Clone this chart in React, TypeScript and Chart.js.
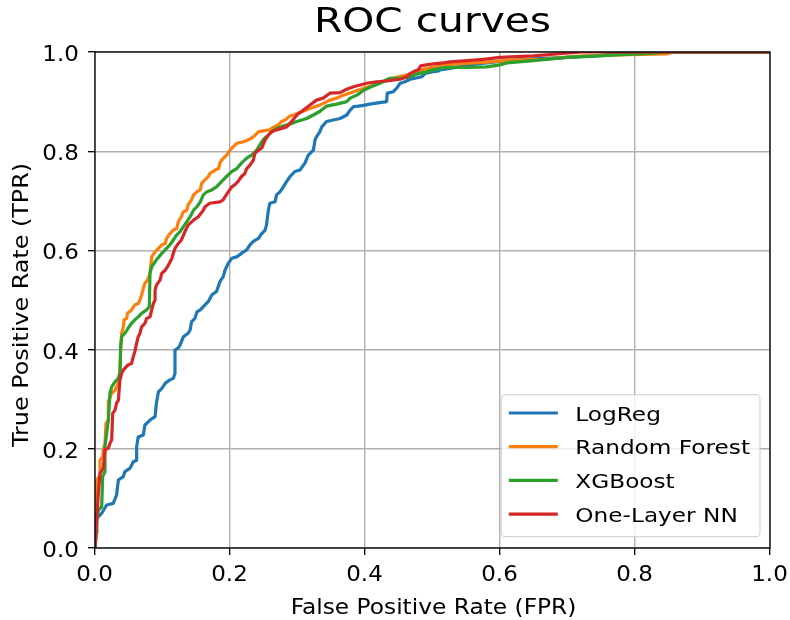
import React, { useEffect, useRef } from 'react';
import { Chart, registerables } from 'chart.js';

Chart.register(...registerables);

const chartTitle = 'ROC curves';
const xAxisTitle = 'False Positive Rate (FPR)';
const yAxisTitle = 'True Positive Rate (TPR)';

const seriesNames = ['LogReg', 'Random Forest', 'XGBoost', 'One-Layer NN'];
const seriesColors = ['#1f77b4', '#ff7f0e', '#2ca02c', '#d62728'];

const xTickValues = [0, 0.2, 0.4, 0.6, 0.8, 1.0];
const xTickLabels = ['0.0', '0.2', '0.4', '0.6', '0.8', '1.0'];
const yTickValues = [0, 0.2, 0.4, 0.6, 0.8, 1.0];
const yTickLabels = ['0.0', '0.2', '0.4', '0.6', '0.8', '1.0'];

const logregFpr = [0, 0.002, 0.0025, 0.0099, 0.0173, 0.027, 0.032, 0.0346, 0.042, 0.0444, 0.052, 0.0568, 0.0617, 0.0617, 0.064, 0.0716, 0.074, 0.0815, 0.089, 0.091, 0.094, 0.099, 0.104, 0.111, 0.116, 0.1185, 0.1185, 0.123, 0.126, 0.131, 0.138, 0.141, 0.143, 0.148, 0.151, 0.156, 0.163, 0.168, 0.173, 0.18, 0.185, 0.19, 0.1926, 0.1975, 0.2025, 0.21, 0.217, 0.2247, 0.2296, 0.2346, 0.242, 0.247, 0.252, 0.254, 0.2568, 0.259, 0.2667, 0.269, 0.274, 0.279, 0.284, 0.289, 0.296, 0.3037, 0.311, 0.316, 0.3235, 0.326, 0.328, 0.333, 0.336, 0.343, 0.353, 0.363, 0.373, 0.378, 0.383, 0.39, 0.4, 0.407, 0.422, 0.432, 0.433, 0.442, 0.447, 0.452, 0.459, 0.467, 0.474, 0.484, 0.489, 0.499, 0.509, 0.511, 0.53, 0.56, 0.6, 0.65, 0.7, 0.74, 0.78, 0.8, 1.0];
const logregTpr = [0, 0.03, 0.06, 0.07, 0.0867, 0.09, 0.107, 0.137, 0.144, 0.154, 0.161, 0.174, 0.177, 0.204, 0.224, 0.228, 0.248, 0.258, 0.265, 0.292, 0.315, 0.322, 0.332, 0.339, 0.342, 0.352, 0.399, 0.403, 0.409, 0.426, 0.433, 0.44, 0.456, 0.463, 0.476, 0.48, 0.49, 0.497, 0.51, 0.517, 0.537, 0.547, 0.56, 0.574, 0.584, 0.587, 0.594, 0.601, 0.611, 0.618, 0.624, 0.634, 0.641, 0.651, 0.681, 0.695, 0.698, 0.712, 0.718, 0.728, 0.739, 0.749, 0.759, 0.762, 0.776, 0.792, 0.802, 0.823, 0.829, 0.839, 0.849, 0.86, 0.863, 0.866, 0.873, 0.883, 0.89, 0.891, 0.893, 0.895, 0.898, 0.9, 0.917, 0.92, 0.927, 0.937, 0.94, 0.945, 0.947, 0.95, 0.957, 0.96, 0.962, 0.964, 0.968, 0.975, 0.981, 0.986, 0.989, 0.992, 0.997, 1.0, 1.0];

const forestFpr = [0, 0.0015, 0.0025, 0.0064, 0.0074, 0.0114, 0.0123, 0.0148, 0.0163, 0.0198, 0.0198, 0.0247, 0.0296, 0.0346, 0.037, 0.038, 0.0395, 0.042, 0.043, 0.047, 0.048, 0.054, 0.059, 0.064, 0.0667, 0.069, 0.0716, 0.074, 0.0775, 0.079, 0.0815, 0.084, 0.089, 0.094, 0.099, 0.104, 0.106, 0.111, 0.116, 0.121, 0.1235, 0.128, 0.131, 0.136, 0.138, 0.143, 0.146, 0.151, 0.156, 0.158, 0.163, 0.168, 0.17, 0.178, 0.183, 0.185, 0.1877, 0.1926, 0.195, 0.2, 0.205, 0.21, 0.22, 0.227, 0.2346, 0.242, 0.249, 0.259, 0.264, 0.2716, 0.2765, 0.2815, 0.289, 0.296, 0.3185, 0.333, 0.348, 0.358, 0.368, 0.383, 0.398, 0.4123, 0.432, 0.447, 0.4716, 0.4864, 0.501, 0.516, 0.536, 0.56, 0.585, 0.61, 0.63, 0.664, 0.679, 0.723, 0.773, 0.847, 0.857, 1.0];
const forestTpr = [0, 0.07, 0.137, 0.144, 0.177, 0.184, 0.198, 0.211, 0.251, 0.258, 0.295, 0.312, 0.3185, 0.332, 0.359, 0.399, 0.433, 0.446, 0.46, 0.463, 0.473, 0.48, 0.49, 0.493, 0.5, 0.51, 0.5235, 0.5336, 0.54, 0.544, 0.554, 0.587, 0.597, 0.604, 0.611, 0.614, 0.624, 0.634, 0.641, 0.644, 0.658, 0.668, 0.678, 0.681, 0.692, 0.702, 0.712, 0.718, 0.722, 0.735, 0.742, 0.749, 0.755, 0.762, 0.765, 0.776, 0.782, 0.789, 0.792, 0.802, 0.809, 0.816, 0.819, 0.823, 0.829, 0.839, 0.841, 0.843, 0.848, 0.853, 0.86, 0.863, 0.871, 0.874, 0.886, 0.893, 0.903, 0.907, 0.913, 0.92, 0.927, 0.933, 0.9435, 0.949, 0.957, 0.965, 0.969, 0.974, 0.976, 0.978, 0.98, 0.9825, 0.984, 0.985, 0.987, 0.992, 0.994, 0.996, 1.0, 1.0];

const xgbFpr = [0, 0.0015, 0.0025, 0.005, 0.0099, 0.0114, 0.0148, 0.0148, 0.0173, 0.0198, 0.0222, 0.0247, 0.0296, 0.0346, 0.037, 0.038, 0.0395, 0.0444, 0.049, 0.054, 0.059, 0.064, 0.069, 0.0765, 0.0805, 0.0815, 0.084, 0.091, 0.099, 0.106, 0.111, 0.116, 0.121, 0.126, 0.131, 0.136, 0.141, 0.146, 0.151, 0.156, 0.1605, 0.1655, 0.173, 0.18, 0.1877, 0.195, 0.2025, 0.21, 0.217, 0.2247, 0.232, 0.2395, 0.244, 0.249, 0.254, 0.2617, 0.269, 0.279, 0.289, 0.299, 0.3136, 0.3235, 0.333, 0.343, 0.358, 0.373, 0.378, 0.388, 0.398, 0.4074, 0.422, 0.437, 0.452, 0.467, 0.474, 0.4815, 0.491, 0.501, 0.511, 0.521, 0.551, 0.58, 0.6, 0.61, 0.649, 0.699, 0.748, 0.773, 0.822, 0.85, 1.0];
const xgbTpr = [0, 0.03, 0.056, 0.0766, 0.083, 0.144, 0.154, 0.204, 0.231, 0.258, 0.312, 0.325, 0.335, 0.342, 0.352, 0.406, 0.426, 0.433, 0.443, 0.453, 0.46, 0.466, 0.473, 0.48, 0.4866, 0.554, 0.567, 0.581, 0.594, 0.604, 0.611, 0.621, 0.631, 0.638, 0.648, 0.658, 0.668, 0.681, 0.688, 0.698, 0.712, 0.718, 0.722, 0.728, 0.739, 0.749, 0.759, 0.765, 0.776, 0.786, 0.792, 0.802, 0.8125, 0.823, 0.829, 0.839, 0.846, 0.851, 0.855, 0.86, 0.866, 0.873, 0.88, 0.891, 0.895, 0.9, 0.907, 0.913, 0.923, 0.929, 0.937, 0.947, 0.947, 0.95, 0.954, 0.957, 0.96, 0.964, 0.967, 0.969, 0.969, 0.97, 0.974, 0.978, 0.9825, 0.989, 0.992, 0.994, 0.997, 1.0, 1.0];

const nnFpr = [0, 0.0025, 0.005, 0.0074, 0.0123, 0.0148, 0.0198, 0.0222, 0.0247, 0.0262, 0.0296, 0.032, 0.0346, 0.037, 0.0395, 0.042, 0.049, 0.054, 0.0568, 0.059, 0.0617, 0.064, 0.0667, 0.069, 0.074, 0.0765, 0.0815, 0.084, 0.0864, 0.089, 0.089, 0.091, 0.0963, 0.099, 0.104, 0.109, 0.114, 0.116, 0.1185, 0.1235, 0.128, 0.1333, 0.138, 0.146, 0.153, 0.1605, 0.163, 0.17, 0.185, 0.19, 0.1926, 0.1975, 0.2025, 0.207, 0.212, 0.217, 0.222, 0.2247, 0.2296, 0.2346, 0.237, 0.242, 0.247, 0.252, 0.257, 0.2617, 0.269, 0.2765, 0.284, 0.2914, 0.299, 0.306, 0.3185, 0.328, 0.338, 0.348, 0.363, 0.373, 0.383, 0.4025, 0.417, 0.432, 0.452, 0.462, 0.467, 0.4716, 0.479, 0.4825, 0.491, 0.501, 0.516, 0.526, 0.551, 0.575, 0.6, 0.649, 0.684, 0.72, 1.0];
const nnTpr = [0, 0.056, 0.11, 0.1505, 0.161, 0.198, 0.201, 0.211, 0.218, 0.2715, 0.278, 0.292, 0.298, 0.339, 0.352, 0.359, 0.369, 0.372, 0.386, 0.396, 0.413, 0.426, 0.433, 0.446, 0.453, 0.463, 0.466, 0.48, 0.493, 0.5, 0.52, 0.53, 0.54, 0.554, 0.56, 0.571, 0.584, 0.594, 0.604, 0.614, 0.621, 0.638, 0.651, 0.661, 0.668, 0.681, 0.688, 0.695, 0.698, 0.702, 0.708, 0.718, 0.728, 0.732, 0.739, 0.749, 0.755, 0.765, 0.772, 0.782, 0.796, 0.802, 0.806, 0.823, 0.833, 0.839, 0.843, 0.846, 0.849, 0.86, 0.873, 0.88, 0.893, 0.903, 0.907, 0.917, 0.918, 0.925, 0.93, 0.937, 0.94, 0.9415, 0.945, 0.95, 0.957, 0.96, 0.964, 0.972, 0.974, 0.976, 0.978, 0.98, 0.9825, 0.985, 0.989, 0.992, 0.996, 1.0, 1.0];

const seriesFpr = [logregFpr, forestFpr, xgbFpr, nnFpr];
const seriesTpr = [logregTpr, forestTpr, xgbTpr, nnTpr];

const FONT = '"DejaVu Sans", "Liberation Sans", sans-serif';

function drawText(
  ctx: CanvasRenderingContext2D,
  text: string,
  x: number,
  y: number,
  size: number,
  align: 'left' | 'center' | 'right',
  stretch: number
) {
  ctx.save();
  ctx.font = `${size}px ${FONT}`;
  ctx.textBaseline = 'alphabetic';
  ctx.textAlign = 'left';
  ctx.fillStyle = '#000';
  const w = ctx.measureText(text).width * stretch;
  const left = align === 'center' ? x - w / 2 : align === 'right' ? x - w : x;
  ctx.translate(left, y);
  ctx.scale(stretch, 1);
  ctx.fillText(text, 0, 0);
  ctx.restore();
}

const decorPlugin = {
  id: 'mplDecor',
  afterDatasetsDraw(chart: any) {
    const ctx: CanvasRenderingContext2D = chart.ctx;
    const ca = chart.chartArea;
    ctx.save();
    ctx.strokeStyle = '#000';
    ctx.lineWidth = 1.3;
    ctx.strokeRect(ca.left, ca.top, ca.right - ca.left, ca.bottom - ca.top);
    ctx.restore();
  },
  afterDraw(chart: any) {
    const ctx: CanvasRenderingContext2D = chart.ctx;
    const ca = chart.chartArea;
    const xs = chart.scales.x;
    const ys = chart.scales.y;
    const cx = (ca.left + ca.right) / 2;
    const cy = (ca.top + ca.bottom) / 2;

    // title
    drawText(ctx, chartTitle, cx, ca.top - 20.3, 34.5, 'center', 1.18);

    // tick labels
    xTickValues.forEach((v, i) => {
      const px = xs.getPixelForValue(v);
      drawText(ctx, xTickLabels[i], px - 0.5, ca.bottom + 33, 20.5, 'center', 1.12);
    });
    yTickValues.forEach((v, i) => {
      const py = ys.getPixelForValue(v);
      drawText(ctx, yTickLabels[i], ca.left - 16.2, py + 9, 20.5, 'right', 1.12);
    });

    // axis titles
    drawText(ctx, xAxisTitle, cx + 1, ca.bottom + 66.3, 20.8, 'center', 1.12);
    ctx.save();
    ctx.translate(ca.left - 66.7, cy + 5);
    ctx.rotate(-Math.PI / 2);
    drawText(ctx, yAxisTitle, 0, 0, 21.3, 'center', 1.12);
    ctx.restore();

    // legend (lower right)
    const fs = 19.5;
    const stretch = 1.19;
    ctx.save();
    ctx.font = `${fs}px ${FONT}`;
    let maxW = 0;
    seriesNames.forEach((n) => {
      maxW = Math.max(maxW, ctx.measureText(n).width * stretch);
    });
    ctx.restore();
    const boxW = 74 + maxW + 10;
    const boxH = 142;
    const boxRight = ca.right - 10;
    const boxBottom = ca.bottom - 11.3;
    const bx = boxRight - boxW;
    const by = boxBottom - boxH;
    ctx.save();
    ctx.beginPath();
    const r = 4;
    ctx.moveTo(bx + r, by);
    ctx.lineTo(bx + boxW - r, by);
    ctx.arcTo(bx + boxW, by, bx + boxW, by + r, r);
    ctx.lineTo(bx + boxW, by + boxH - r);
    ctx.arcTo(bx + boxW, by + boxH, bx + boxW - r, by + boxH, r);
    ctx.lineTo(bx + r, by + boxH);
    ctx.arcTo(bx, by + boxH, bx, by + boxH - r, r);
    ctx.lineTo(bx, by + r);
    ctx.arcTo(bx, by, bx + r, by, r);
    ctx.closePath();
    ctx.fillStyle = 'rgba(255,255,255,0.8)';
    ctx.fill();
    ctx.strokeStyle = 'rgba(204,204,204,0.8)';
    ctx.lineWidth = 1.2;
    ctx.stroke();
    ctx.restore();

    seriesNames.forEach((n, i) => {
      const ly = by + 18.3 + i * 33.7;
      ctx.save();
      ctx.strokeStyle = seriesColors[i];
      ctx.lineWidth = 3.2;
      ctx.beginPath();
      ctx.moveTo(bx + 7.5, ly);
      ctx.lineTo(bx + 56.5, ly);
      ctx.stroke();
      ctx.restore();
      drawText(ctx, n, bx + 74, ly + 7.7, fs, 'left', stretch);
    });
  },
};

export default function App() {
  const canvasRef = useRef<HTMLCanvasElement | null>(null);

  useEffect(() => {
    document.body.style.margin = '0';
    const canvas = canvasRef.current;
    if (!canvas) return;
    const datasets = seriesNames.map((name, i) => ({
      label: name,
      data: seriesFpr[i].map((x, j) => ({ x, y: seriesTpr[i][j] })),
      borderColor: seriesColors[i],
      backgroundColor: seriesColors[i],
      borderWidth: 3.2,
      pointRadius: 0,
      pointHoverRadius: 0,
      tension: 0,
      fill: false,
      showLine: true,
      borderJoinStyle: 'round' as const,
      clip: 0,
      order: seriesNames.length - i,
    }));
    const gridOpts = {
      color: '#b0b0b0',
      lineWidth: 1.4,
      tickColor: '#000',
      tickWidth: 1.3,
      tickLength: 7,
      drawTicks: true,
    };
    const chart = new Chart(canvas, {
      type: 'line',
      data: { datasets },
      options: {
        animation: false,
        responsive: false,
        devicePixelRatio: 1,
        layout: { padding: { left: 88, top: 52, right: 20, bottom: 65 } },
        plugins: {
          legend: { display: false },
          title: { display: false },
          tooltip: { enabled: false },
        },
        scales: {
          x: {
            type: 'linear',
            min: 0,
            max: 1,
            ticks: { display: false, stepSize: 0.2 },
            grid: gridOpts,
            border: { display: false },
          },
          y: {
            type: 'linear',
            min: 0,
            max: 1,
            ticks: { display: false, stepSize: 0.2 },
            grid: gridOpts,
            border: { display: false },
          },
        },
      },
      plugins: [decorPlugin],
    });
    return () => {
      chart.destroy();
    };
  }, []);

  return (
    <div style={{ width: 790, height: 620 }}>
      <canvas ref={canvasRef} width={790} height={620} />
    </div>
  );
}
